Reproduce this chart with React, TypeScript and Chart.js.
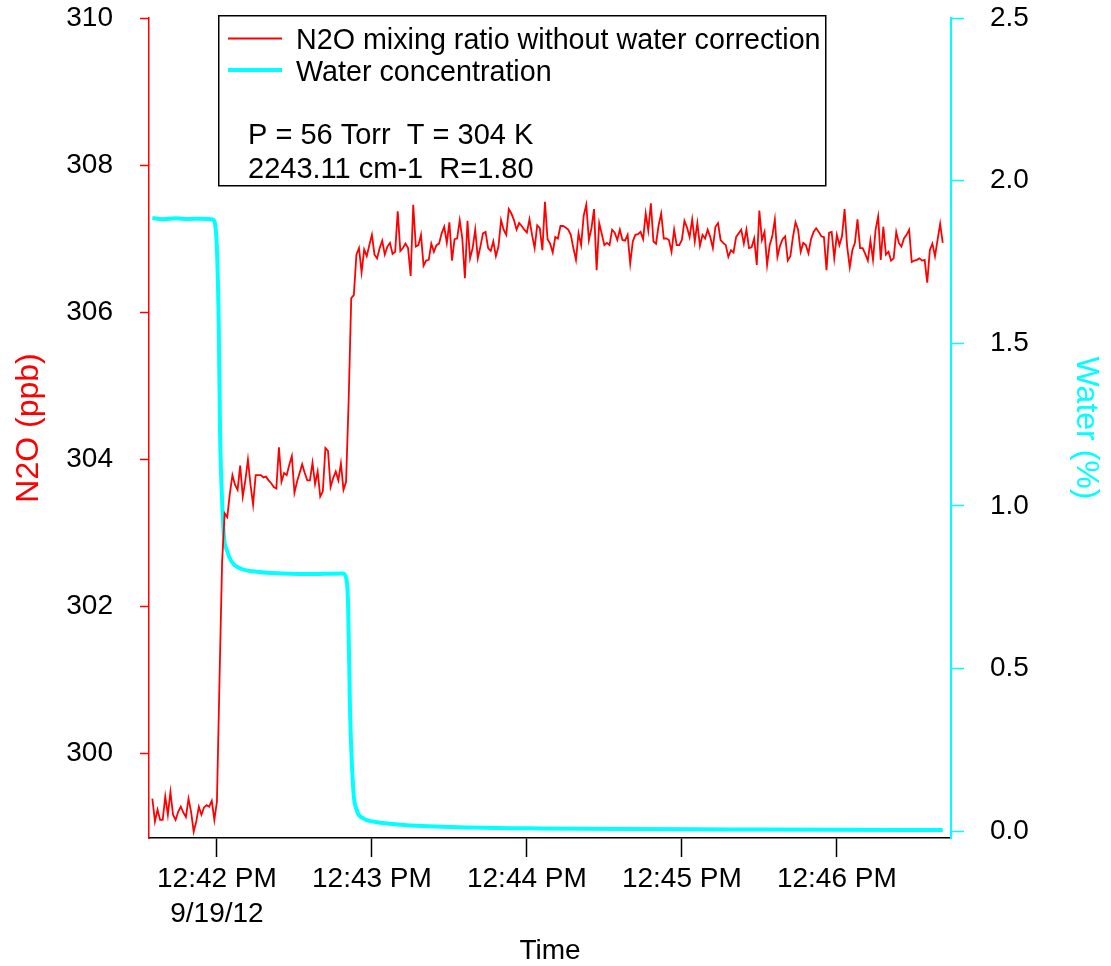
import React, { useEffect, useRef } from 'react';
import { Chart, registerables } from 'chart.js';

Chart.register(...registerables);

const FONT = "'Liberation Sans', Arial, Helvetica, sans-serif";

// x axis: seconds relative to 12:42:00 PM, 9/19/12
const xMinSecond = -26.3;
const xMaxSecond = 284.2;
const xTickSeconds = [0, 60, 120, 180, 240];
const xTickLabels: (string | string[])[] = [
  ['12:42 PM', '9/19/12'],
  '12:43 PM',
  '12:44 PM',
  '12:45 PM',
  '12:46 PM',
];

const n2oTickValues = [300, 302, 304, 306, 308, 310];
const waterTickValues = [0, 0.5, 1.0, 1.5, 2.0, 2.5];

// N2O mixing ratio (ppb), one sample per second starting at n2oStartSecond
const n2oStartSecond = -25;
const n2oBaseline = [
  299.38, 299.07, 299.23, 299.09, 299.09, 299.41, 299.16, 299.47, 299.16, 299.09,
  299.2, 299.27, 299.19, 299.13, 299.38, 299.2, 298.93, 299.07, 299.27, 299.16,
  299.26, 299.29, 299.27, 299.35, 299.09, 299.34,
];
const n2oFirstRise = [301.0, 302.6];
const n2oMiddle = [
  303.26, 303.21, 303.53, 303.78, 303.65, 303.58, 303.91, 303.49, 303.71, 303.99,
  303.65, 303.38, 303.78, 303.78, 303.78, 303.75, 303.76, 303.71, 303.67, 303.62,
  303.6, 304.16, 303.69, 303.81, 303.78, 303.92, 304.04, 303.54, 303.69, 303.81,
  303.93, 303.81, 303.71, 303.71, 303.95, 303.66, 303.83, 303.49, 303.56, 304.15,
  304.11, 303.62, 303.74, 303.83, 303.71, 303.94, 303.58, 303.69,
];
const n2oSecondRise = [304.8];
const n2oHighA = [
  306.19, 306.23, 306.78, 306.87, 306.54, 306.85, 306.76, 306.91, 307.05, 306.78,
  306.73, 306.87, 306.97, 306.78, 306.89, 306.94, 306.79, 306.82, 307.37, 306.83,
  306.87, 306.93, 306.87, 306.49, 307.46, 306.89, 306.91, 307.05, 306.63, 306.7,
  306.71, 306.93, 306.82, 306.91, 306.93, 307.07, 307.16, 306.94, 307.22, 306.7,
  306.99, 307.0, 307.25, 307.0, 306.46, 307.24, 306.73, 306.87, 307.12, 306.73,
  306.89, 307.07, 307.09, 306.87, 306.83, 306.96, 306.76, 306.89, 307.25, 307.12,
];
const n2oHighB = [
  307.05, 307.4, 307.34, 307.25, 307.12, 307.21, 307.17, 307.12, 307.08, 307.26,
  307.05, 306.87, 307.18, 307.14, 306.84, 307.5, 306.99, 306.93, 306.81, 307.02,
  307.0, 307.17, 307.17, 307.15, 307.12, 307.05, 306.87, 306.71, 307.07, 306.91,
  307.31, 307.46, 306.98, 307.14, 307.4, 306.57, 307.21, 307.06, 306.91, 306.94,
  306.91, 307.12, 307.08, 306.98, 307.12, 306.98, 306.97, 307.05, 306.66, 306.96,
  307.05, 307.06, 307.09, 306.99, 307.34, 307.11, 307.48, 306.96, 306.93, 307.18,
];
const n2oHighC = [
  307.34, 307.0, 307.0, 306.98, 306.82, 307.12, 306.91, 306.91, 306.98, 307.24,
  307.15, 307.02, 307.26, 306.96, 307.21, 306.9, 307.05, 307.0, 307.12, 307.02,
  306.87, 307.16, 307.21, 306.98, 306.94, 306.91, 306.75, 306.84, 306.81, 307.02,
  307.07, 307.12, 306.93, 307.12, 306.87, 306.88, 307.0, 306.64, 307.38, 306.98,
  307.09, 306.64, 306.91, 307.03, 307.26, 306.75, 306.9, 306.99, 307.03, 306.7,
  306.76, 307.02, 307.22, 307.12, 306.82, 306.94, 306.91, 306.8,
];
const n2oHighD = [
  306.99, 307.09, 307.14, 307.09, 307.03, 307.02, 306.57, 307.08, 307.09, 306.73,
  307.05, 306.91, 307.03, 307.4, 306.89, 306.61, 306.84, 306.94, 307.26, 306.87,
  306.87, 306.79, 306.7, 306.97, 306.71, 307.12, 307.3, 306.71, 307.16, 306.78,
  306.82, 306.7, 306.73, 307.09, 306.94, 306.89, 307.0, 307.05, 307.12, 306.68,
  306.7, 306.71, 306.73, 306.7, 306.71, 306.4, 306.84, 306.93, 306.76, 306.98,
  307.2, 306.94,
];
const n2oPpb = [
  ...n2oBaseline,
  ...n2oFirstRise,
  ...n2oMiddle,
  ...n2oSecondRise,
  ...n2oHighA,
  ...n2oHighB,
  ...n2oHighC,
  ...n2oHighD,
];

// Water concentration (%)
const waterSeconds = [
  -25, -21, -16, -11, -6, -1.4, -0.4, 0.1, 0.7, 1.2, 1.6, 2.1, 2.7, 3.8, 5.7, 8.9,
  15.4, 22, 34.7, 48.9, 50.2, 50.8, 51.5, 52.8, 54.1, 56.6, 60.5, 73.4, 99, 125,
  160, 200, 240, 281,
];
const waterPct = [
  1.885, 1.881, 1.884, 1.882, 1.883, 1.88, 1.844, 1.767, 1.56, 1.23, 1.1, 1.0, 0.905,
  0.865, 0.828, 0.808, 0.797, 0.793, 0.79, 0.792, 0.772, 0.69, 0.38, 0.126, 0.065,
  0.039, 0.029, 0.018, 0.011, 0.008, 0.006, 0.005, 0.004, 0.003,
];

const seriesNames = ['N2O mixing ratio without water correction', 'Water concentration'];
const noteLines = ['P = 56 Torr  T = 304 K', '2243.11 cm-1  R=1.80'];

const RED = '#ff0000';
const CYAN = '#00ffff';

const legendBoxPlugin = {
  id: 'legendBox',
  afterDraw(chart: any) {
    const ctx: CanvasRenderingContext2D = chart.ctx;
    ctx.save();
    ctx.fillStyle = '#ffffff';
    ctx.fillRect(218, 15, 608, 171);
    ctx.strokeStyle = '#000000';
    ctx.lineWidth = 1.5;
    ctx.strokeRect(218.75, 15.75, 607, 170);

    ctx.lineCap = 'butt';
    ctx.strokeStyle = RED;
    ctx.lineWidth = 1.8;
    ctx.beginPath();
    ctx.moveTo(228, 38.5);
    ctx.lineTo(282, 38.5);
    ctx.stroke();

    ctx.strokeStyle = CYAN;
    ctx.lineWidth = 4;
    ctx.beginPath();
    ctx.moveTo(228, 70);
    ctx.lineTo(282, 70);
    ctx.stroke();

    ctx.fillStyle = '#000000';
    ctx.font = `28.7px ${FONT}`;
    ctx.textAlign = 'left';
    ctx.textBaseline = 'alphabetic';
    ctx.fillText(seriesNames[0], 296, 49);
    ctx.fillText(seriesNames[1], 296, 81);
    ctx.font = `29px ${FONT}`;
    ctx.fillText(noteLines[0], 248, 144);
    ctx.fillText(noteLines[1], 248, 178);
    ctx.restore();
  },
};

const noEdgePadding = (s: any) => {
  s.paddingTop = 0;
  s.paddingBottom = 0;
  s.paddingLeft = 0;
  s.paddingRight = 0;
};

export default function App() {
  const canvasRef = useRef<HTMLCanvasElement>(null);

  useEffect(() => {
    const canvas = canvasRef.current;
    if (!canvas) return;
    const tickFont = { family: FONT, size: 28, lineHeight: 1.25 };
    const titleFont = { family: FONT, size: 32, lineHeight: 1.1 };

    const chart = new Chart(canvas, {
      type: 'line',
      data: {
        datasets: [
          {
            label: seriesNames[0],
            data: n2oPpb.map((v, i) => ({ x: n2oStartSecond + i, y: v })),
            borderColor: RED,
            backgroundColor: RED,
            borderWidth: 1.8,
            pointRadius: 0,
            tension: 0,
            yAxisID: 'y',
          },
          {
            label: seriesNames[1],
            data: waterSeconds.map((s, i) => ({ x: s, y: waterPct[i] })),
            borderColor: CYAN,
            backgroundColor: CYAN,
            borderWidth: 4,
            pointRadius: 0,
            cubicInterpolationMode: 'monotone',
            yAxisID: 'y1',
          },
        ],
      },
      options: {
        responsive: false,
        animation: false,
        layout: { padding: { top: 18, left: 0, right: 0, bottom: 0 } },
        plugins: {
          legend: { display: false },
          tooltip: { enabled: false },
        },
        scales: {
          x: {
            type: 'linear',
            position: 'bottom',
            min: xMinSecond,
            max: xMaxSecond,
            afterBuildTicks: (s: any) => {
              s.ticks = xTickSeconds.map((v) => ({ value: v }));
            },
            afterFit: (s: any) => {
              s.height = 128;
              noEdgePadding(s);
            },
            ticks: {
              autoSkip: false,
              maxRotation: 0,
              minRotation: 0,
              padding: 5,
              color: '#000',
              font: tickFont,
              callback: (_v: any, i: number) => xTickLabels[i],
            },
            grid: {
              drawOnChartArea: false,
              drawTicks: true,
              tickLength: 19,
              tickColor: '#000',
              tickWidth: 1.5,
            },
            border: { display: true, color: '#000', width: 1.5 },
            title: {
              display: true,
              text: 'Time',
              color: '#000',
              font: { family: FONT, size: 28, lineHeight: 1.0 },
              padding: { top: 0, bottom: 1 },
            },
          },
          y: {
            type: 'linear',
            position: 'left',
            min: 298.844,
            max: 310,
            afterBuildTicks: (s: any) => {
              s.ticks = n2oTickValues.map((v) => ({ value: v }));
            },
            afterFit: (s: any) => {
              s.width = 149;
              noEdgePadding(s);
            },
            ticks: {
              padding: 27,
              color: '#000',
              font: tickFont,
              callback: (v: any) => String(v),
            },
            grid: {
              drawOnChartArea: false,
              drawTicks: true,
              tickLength: 9,
              tickColor: RED,
              tickWidth: 1.5,
            },
            border: { display: true, color: RED, width: 1.5 },
            title: {
              display: true,
              text: 'N2O (ppb)',
              color: RED,
              font: titleFont,
              padding: { top: 12, bottom: 0 },
            },
          },
          y1: {
            type: 'linear',
            position: 'right',
            min: -0.0215,
            max: 2.5,
            afterBuildTicks: (s: any) => {
              s.ticks = waterTickValues.map((v) => ({ value: v }));
            },
            afterFit: (s: any) => {
              s.width = 160;
              noEdgePadding(s);
            },
            ticks: {
              padding: 26,
              color: '#000',
              font: tickFont,
              callback: (v: any) => Number(v).toFixed(1),
            },
            grid: {
              drawOnChartArea: false,
              drawTicks: true,
              tickLength: 13,
              tickColor: CYAN,
              tickWidth: 1.5,
            },
            border: { display: true, color: CYAN, width: 2 },
            title: {
              display: true,
              text: 'Water (%)',
              color: CYAN,
              font: titleFont,
              padding: { top: 8, bottom: 0 },
            },
          },
        },
      },
      plugins: [legendBoxPlugin],
    } as any);

    return () => chart.destroy();
  }, []);

  return (
    <div
      style={{
        position: 'absolute',
        left: 0,
        top: 0,
        width: 1111,
        height: 966,
        background: '#ffffff',
        overflow: 'hidden',
      }}
    >
      <canvas ref={canvasRef} width={1111} height={966} style={{ display: 'block', width: 1111, height: 966 }} />
    </div>
  );
}
